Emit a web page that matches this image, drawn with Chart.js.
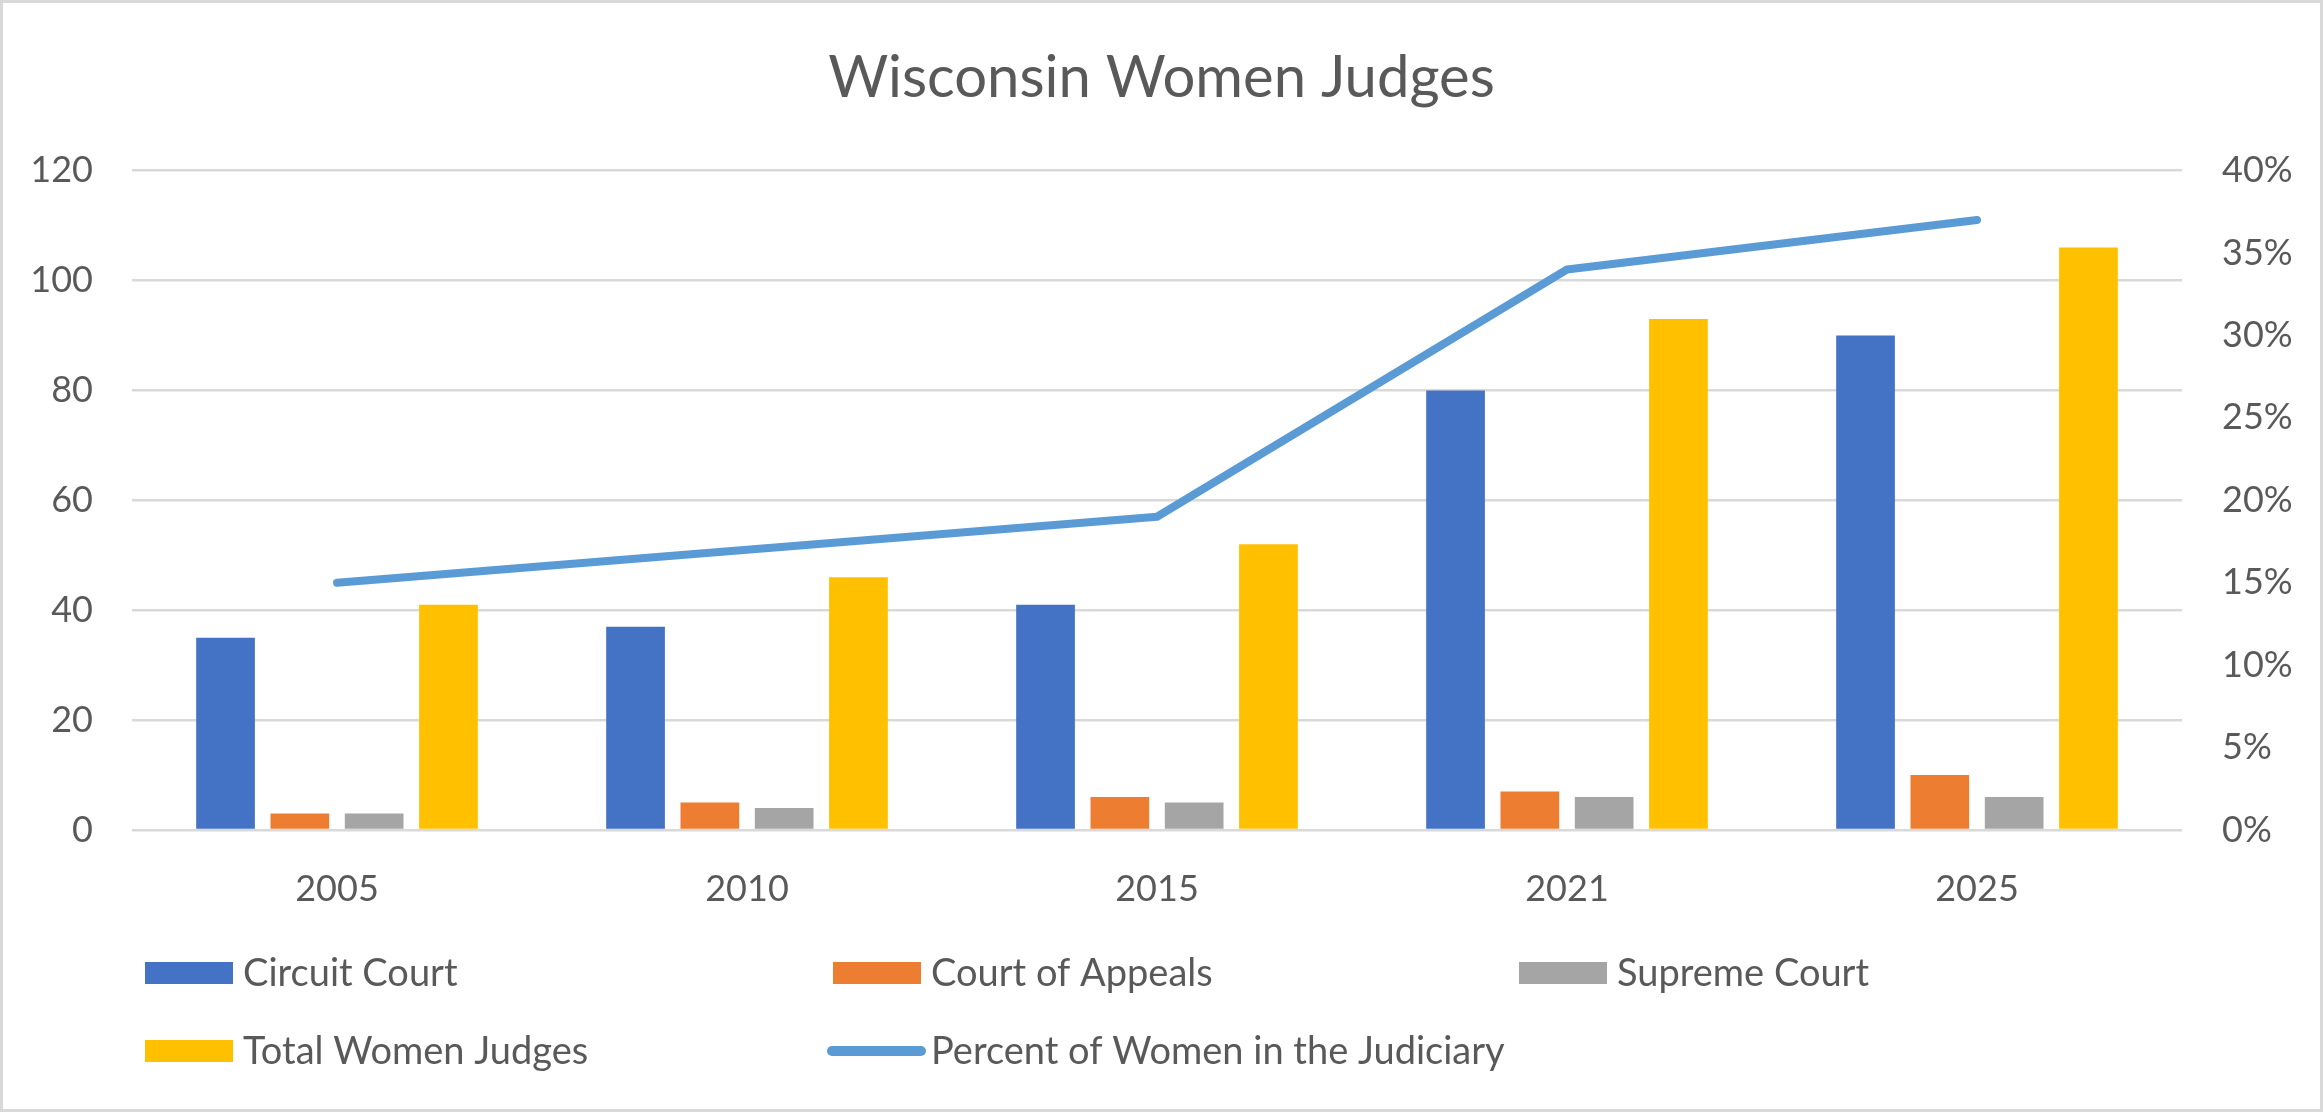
<!DOCTYPE html>
<html>
<head>
<meta charset="utf-8">
<title>Wisconsin Women Judges</title>
<script src="https://cdn.jsdelivr.net/npm/chart.js@4/dist/chart.umd.min.js"></script>
<style>
  html, body { margin: 0; padding: 0; background: #fff; }
  #wrap { width: 2323px; height: 1112px; position: relative; }
</style>
</head>
<body>
<div id="wrap"><canvas id="judgesChart"></canvas></div>
<script>
var years = ["2005", "2010", "2015", "2021", "2025"];
var circuitCourt = [35, 37, 41, 80, 90];
var courtOfAppeals = [3, 5, 6, 7, 10];
var supremeCourt = [3, 4, 5, 6, 6];
var totalWomenJudges = [41, 46, 52, 93, 106];
var percentWomen = [0.15, 0.17, 0.19, 0.34, 0.37];

var fontFamily = "Lato, 'Open Sans', sans-serif";
var textColor = "#595959";
var gridColor = "#d9d9d9";

// excel-style legend: fixed columns, wide swatches
var gridLegend = {
    id: "gridLegend",
    beforeDraw: function (chart) {
        var ctx = chart.ctx;
        ctx.save();
        ctx.fillStyle = "#fff";
        ctx.fillRect(0, 0, chart.width, chart.height);
        ctx.strokeStyle = gridColor;
        ctx.lineWidth = 3;
        ctx.strokeRect(1.5, 1.5, chart.width - 3, chart.height - 3);
        ctx.restore();
    },
    afterDraw: function (chart) {
        var ctx = chart.ctx;
        var cols = [145, 833, 1519];
        var rows = [973, 1051];
        ctx.save();
        ctx.font = "38px " + fontFamily;
        ctx.textBaseline = "middle";
        ctx.textAlign = "left";
        chart.data.datasets.forEach(function (ds, i) {
            var x = cols[i % 3];
            var y = rows[Math.floor(i / 3)];
            if (ds.type === "line") {
                ctx.strokeStyle = ds.borderColor;
                ctx.lineWidth = 10;
                ctx.lineCap = "round";
                ctx.beginPath();
                ctx.moveTo(x - 1, y);
                ctx.lineTo(x + 88, y);
                ctx.stroke();
            } else {
                ctx.fillStyle = ds.backgroundColor;
                ctx.fillRect(x, y - 11, 88, 22);
            }
            ctx.fillStyle = textColor;
            ctx.fillText(ds.label, x + 98, y + 1);
        });
        ctx.restore();
    }
};

var chartElement = document.getElementById("judgesChart").getContext("2d");

var barDefaults = {
    type: "bar",
    yAxisID: "y",
    order: 1,
    barPercentage: 0.79,
    categoryPercentage: 0.725
};

var chartObject = new Chart(chartElement, {
    data: {
        labels: years,
        datasets: [
            Object.assign({ label: "Circuit Court", data: circuitCourt, backgroundColor: "#4472c4" }, barDefaults),
            Object.assign({ label: "Court of Appeals", data: courtOfAppeals, backgroundColor: "#ed7d31" }, barDefaults),
            Object.assign({ label: "Supreme Court", data: supremeCourt, backgroundColor: "#a5a5a5" }, barDefaults),
            Object.assign({ label: "Total Women Judges", data: totalWomenJudges, backgroundColor: "#ffc000" }, barDefaults),
            {
                type: "line",
                label: "Percent of Women in the Judiciary",
                data: percentWomen,
                yAxisID: "y2",
                order: 0,
                borderColor: "#5b9bd5",
                backgroundColor: "#5b9bd5",
                borderWidth: 8,
                borderCapStyle: "round",
                borderJoinStyle: "round",
                pointRadius: 0,
                tension: 0,
                fill: false
            }
        ]
    },
    options: {
        responsive: true,
        maintainAspectRatio: false,
        devicePixelRatio: 1,
        animation: false,
        layout: { padding: { left: 0, right: 0, top: 0, bottom: 201 } },
        plugins: {
            legend: { display: false },
            tooltip: { enabled: false },
            title: {
                display: true,
                text: "Wisconsin Women Judges",
                color: textColor,
                font: { family: fontFamily, size: 58, weight: "normal" },
                padding: { top: 43, bottom: 58 }
            }
        },
        scales: {
            x: {
                grid: { display: false, drawTicks: false },
                border: { display: false },
                ticks: { color: textColor, font: { family: fontFamily, size: 36 }, padding: 38 },
                afterFit: function (scale) { scale.height = 81; }
            },
            y: {
                position: "left",
                min: 0,
                max: 120,
                ticks: { stepSize: 20, color: textColor, font: { family: fontFamily, size: 36 }, padding: 39 },
                grid: { color: gridColor, lineWidth: 2.5, drawTicks: false },
                border: { display: false },
                afterFit: function (scale) { scale.width = 132; }
            },
            y2: {
                position: "right",
                min: 0,
                max: 0.4,
                ticks: {
                    stepSize: 0.05,
                    color: textColor,
                    font: { family: fontFamily, size: 36 },
                    padding: 40,
                    callback: function (v) { return Math.round(v * 100) + "%"; }
                },
                grid: { display: false, drawTicks: false },
                border: { display: false },
                afterFit: function (scale) { scale.width = 141; }
            }
        }
    },
    plugins: [gridLegend]
});
chartObject.update();
</script>
</body>
</html>
